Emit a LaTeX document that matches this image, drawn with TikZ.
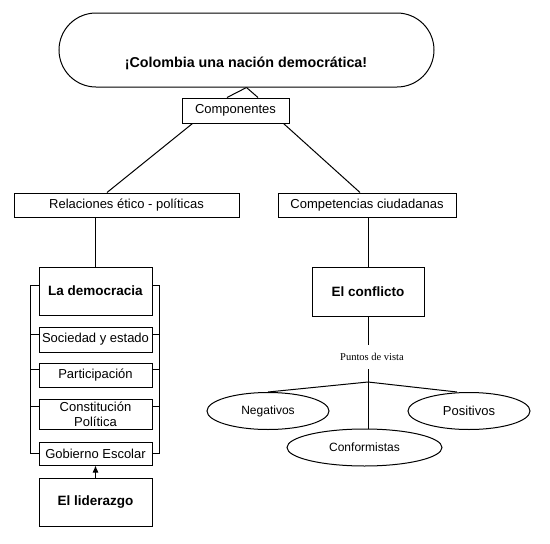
\documentclass[tikz,border=0pt]{standalone}
\usepackage{fontspec}
\setmainfont{Liberation Sans}
\newfontfamily\serifpv{Liberation Serif}
\usetikzlibrary{shapes.geometric,arrows.meta,calc}
\begin{document}
\begin{tikzpicture}[x=1pt,y=-1pt,
  every path/.style={line width=1pt},
  boxr/.style={draw,line width=1pt,rectangle,inner sep=0pt,align=center,font=\fontsize{13}{15}\selectfont},
  boxb/.style={boxr,font=\bfseries\fontsize{13.5}{15}\selectfont},
  ell/.style={draw,ellipse,line width=1pt,inner sep=0pt,font=\fontsize{12}{14}\selectfont}]
\useasboundingbox (0,0) rectangle (550,544);
% title
\node[draw,line width=1pt,rounded corners=37pt,minimum width=375pt,minimum height=74pt] (title) at (246.5,50) {};
\node[inner sep=0pt,font=\bfseries\fontsize{14.3}{16}\selectfont] (titletext) at (246,63) {¡Colombia una nación democrática!};
% level 2
\node[boxr,minimum width=107pt,minimum height=25pt] (comp) at (235.5,110.5) {Componentes};
\node[boxr,minimum width=225pt,minimum height=24pt] (rel) at (126.5,205) {Relaciones ético - políticas};
\node[boxr,minimum width=178pt,minimum height=24pt] (compet) at (367,205) {Competencias ciudadanas};
% left column
\node[boxb,minimum width=113pt,minimum height=48pt] (dem) at (95.5,291) {La democracia};
\node[boxr,minimum width=113pt,minimum height=25pt] (soc) at (95.5,339.5) {Sociedad y estado};
\node[boxr,minimum width=113pt,minimum height=24pt] (part) at (95.5,375) {Participación};
\node[boxr,minimum width=113pt,minimum height=30pt] (const) at (95.5,414) {Constitución\\Política};
\node[boxr,minimum width=113pt,minimum height=23pt] (gob) at (95.5,453.5) {Gobierno Escolar};
\node[boxb,minimum width=113pt,minimum height=48pt] (lid) at (95.5,502) {El liderazgo};
% right column
\node[boxb,minimum width=112pt,minimum height=49pt] (confl) at (368,291.5) {El conflicto};
\node[inner xsep=0pt,inner ysep=8pt,font=\serifpv\fontsize{10.5}{12}\selectfont] (pv) at (372,357) {Puntos de vista};
\node[ell,minimum width=122pt,minimum height=37pt] (neg) at (268,411) {Negativos};
\node[ell,minimum width=122pt,minimum height=37pt,font=\fontsize{13}{15}\selectfont] (pos) at (469,411) {Positivos};
\node[ell,minimum width=155pt,minimum height=37pt] (conf) at (364.5,447.5) {Conformistas};
\coordinate (hub) at (368,382);
% connectors
\draw (title.south) -- ([xshift=-8.5pt]comp.north);
\draw (title.south) -- ([xshift=22.5pt]comp.north);
\draw ([xshift=11pt]comp.south west) -- ([xshift=-19.5pt]rel.north);
\draw ([xshift=-6pt]comp.south east) -- ([xshift=-7pt]compet.north);
\draw (dem.north |- rel.south) -- (dem.north);
\draw (confl.north |- compet.south) -- (confl.north);
\draw (confl.south) -- (confl.south |- pv.north);
\draw (confl.south |- pv.south) -- (confl.south |- conf.north);
\draw (hub) -- (neg.north);
\draw (hub) -- ([xshift=-12pt]pos.north);
\draw[-{Latex[length=7pt,width=6pt]}] (lid.north) -- (gob.south);
% brackets
\draw ([yshift=6pt]dem.west) -| ([xshift=-8pt]gob.west) -- (gob.west);
\draw ([yshift=6pt]dem.east) -| ([xshift=7pt]gob.east) -- (gob.east);
\draw ([yshift=5.5pt]soc.west) -- ++(-8pt,0);
\draw ([yshift=6pt]part.west) -- ++(-8pt,0);
\draw ([yshift=8pt]const.west) -- ++(-8pt,0);
\draw ([yshift=5.5pt]soc.east) -- ++(7pt,0);
\draw ([yshift=6pt]part.east) -- ++(7pt,0);
\draw ([yshift=8pt]const.east) -- ++(7pt,0);
\end{tikzpicture}
\end{document}
